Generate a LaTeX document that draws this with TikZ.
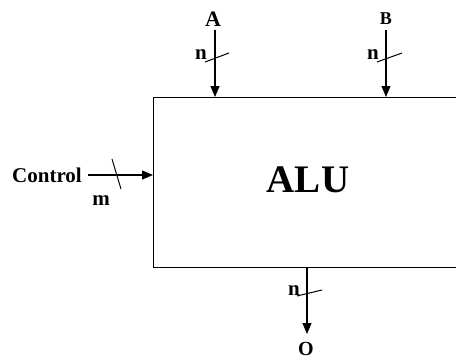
\documentclass[tikz,border=0pt]{standalone}
\usepackage{fontspec}
\setmainfont{Liberation Serif}
\usetikzlibrary{arrows.meta}
\begin{document}
\begin{tikzpicture}[x=1pt,y=-1pt,
  lbl/.style={inner sep=0pt,font=\bfseries\fontsize{21}{24}\selectfont},
  bus/.style={line width=1.2pt,-{Triangle[length=11pt,width=9pt]}},
  tick/.style={line width=1pt}]
\useasboundingbox (0,0) rectangle (456,362);
\clip (0,0) rectangle (456,362);
\node[draw,line width=1.3pt,minimum width=330pt,minimum height=170pt,anchor=north west,inner sep=0pt] (box) at (153,97) {};
\node[inner sep=0pt,font=\bfseries\fontsize{39}{43}\selectfont] (alu) at (308,180) {ALU};
\node[lbl,font=\bfseries\fontsize{22}{26}\selectfont] (A) at (213,19) {A};
\node[lbl,font=\bfseries\fontsize{18}{21}\selectfont] (B) at (386,19) {B};
\node[lbl,font=\bfseries\fontsize{21}{24}\selectfont,anchor=base east] (ctl) at (82,182) {Control};
\node[lbl,font=\bfseries\fontsize{20}{24}\selectfont] (O) at (306,349) {O};
\coordinate (ctop) at (215,30);
\coordinate (btop) at (386,30);
\coordinate (cstart) at (88,175);
\coordinate (obot) at (307,334);
\draw[bus] (ctop) -- (ctop |- box.north);
\draw[bus] (btop) -- (btop |- box.north);
\draw[bus] (cstart) -- (cstart -| box.west);
\draw[bus] (obot |- box.south) -- (obot);
% ticks
\draw[tick] (205,62) -- (229,53);
\draw[tick] (377,62) -- (402,53);
\draw[tick] (112,159) -- (121,189);
\draw[tick] (297,296) -- (322,290);
\node[lbl] (n1) at (201,55) {n};
\node[lbl] (n2) at (373,55) {n};
\node[lbl] (m) at (101,201) {m};
\node[lbl] (n3) at (294,291) {n};
\end{tikzpicture}
\end{document}
